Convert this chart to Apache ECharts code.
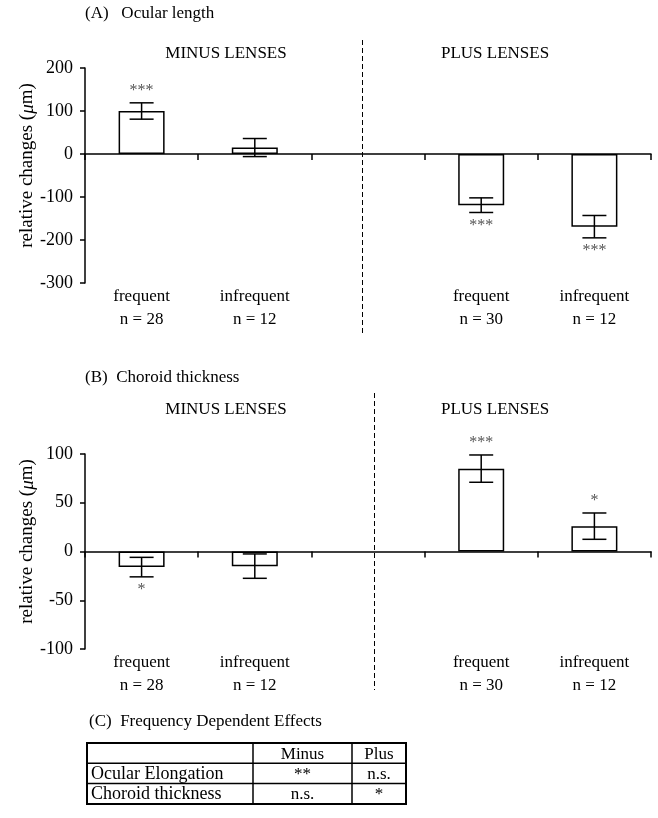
<!DOCTYPE html>
<html>
<head>
<meta charset="utf-8">
<script src="https://cdn.jsdelivr.net/npm/echarts@6/dist/echarts.min.js"></script>
<style>
  html, body { margin: 0; padding: 0; background: #fff; }
  #chart { width: 658px; height: 818px; }
</style>
</head>
<body>
<div id="chart"></div>
<script>
// data
var categories = ['frequent', 'infrequent', '', 'frequent', 'infrequent'];
var nLabels = ['n = 28', 'n = 12', '', 'n = 30', 'n = 12'];

var ocularMean = [100, 15, null, -119, -169];
var ocularSem = [19, 21, null, 17, 26];
var ocularSig = ['***', '', '', '***', '***'];

var choroidMean = [-16, -15, null, 85, 26];
var choroidSem = [10, 12.5, null, 14, 13.5];
var choroidSig = ['*', '', '', '***', '*'];

var tableHeader = ['', 'Minus', 'Plus'];
var tableRows = [
  ['Ocular Elongation', '**', 'n.s.'],
  ['Choroid thickness', 'n.s.', '*']
];

var FONT = '"Liberation Serif", "Times New Roman", serif';
var chart = echarts.init(document.getElementById('chart'));

// error bar + asterisks
function errorRender(sig) {
  return function(params, api) {
    var i = api.value(0), m = api.value(1), s = api.value(2);
    var hi = api.coord([i, m + s]);
    var lo = api.coord([i, m - s]);
    var cap = 12;
    var st = { stroke: '#000', lineWidth: 1.5 };
    var kids = [
      { type: 'line', shape: { x1: hi[0], y1: hi[1], x2: lo[0], y2: lo[1] }, style: st },
      { type: 'line', shape: { x1: hi[0] - cap, y1: hi[1], x2: hi[0] + cap, y2: hi[1] }, style: st },
      { type: 'line', shape: { x1: lo[0] - cap, y1: lo[1], x2: lo[0] + cap, y2: lo[1] }, style: st }
    ];
    var t = sig[params.dataIndex];
    if (t) {
      var up = m > 0;
      kids.push({
        type: 'text',
        style: {
          text: t, x: hi[0], y: up ? hi[1] - 4 : lo[1] + 5,
          align: 'center', verticalAlign: up ? 'bottom' : 'top',
          font: '16px ' + FONT, fill: '#555'
        }
      });
    }
    return { type: 'group', children: kids };
  };
}

function errData(mean, sem) {
  var out = [];
  mean.forEach(function(m, i) { if (m !== null) out.push([i, m, sem[i]]); });
  return out;
}

function makeY(idx, min, max, interval) {
  return {
    type: 'value', gridIndex: idx, min: min, max: max, interval: interval,
    splitLine: { show: false },
    axisLine: { show: true, lineStyle: { color: '#000', width: 1.5 } },
    axisTick: { show: true, length: 5, lineStyle: { color: '#000', width: 1.5 } },
    axisLabel: { color: '#000', fontSize: 18, fontFamily: FONT, margin: 12 },
    name: 'relative changes ({i|μ}m)',
    nameLocation: 'middle', nameRotate: 90, nameGap: 48, nameMoveOverlap: false,
    nameTextStyle: {
      color: '#000', fontSize: 19, fontFamily: FONT, padding: [0, 0, 0, 20],
      rich: { i: { fontStyle: 'italic', fontSize: 19, fontFamily: FONT, color: '#000' } }
    }
  };
}

function makeX(idx) {
  return [{
    type: 'category', gridIndex: idx, data: categories,
    axisLine: { onZero: true, lineStyle: { color: '#000', width: 1.5 } },
    axisTick: { show: true, length: 6, lineStyle: { color: '#000', width: 1.5 } },
    axisLabel: { show: false }
  }, {
    type: 'category', gridIndex: idx, data: categories, position: 'bottom',
    axisLine: { show: false, onZero: false }, axisTick: { show: false },
    axisLabel: {
      color: '#000', fontSize: 17, fontFamily: FONT, margin: 2, lineHeight: 23,
      formatter: function(v, i) { return v ? v + '\n' + nLabels[i] : ''; }
    }
  }];
}

function texts() {
  var t = function(x, y, s, align, size) {
    return { type: 'text', x: x, y: y, style: {
      text: s, align: align || 'center', verticalAlign: 'middle',
      font: (size || 17) + 'px ' + FONT, fill: '#000' } };
  };
  var dash = { stroke: '#000', lineWidth: 1, lineDash: [5, 3] };
  var els = [
    t(85, 14, '(A)   Ocular length', 'left'),
    t(226, 54, 'MINUS LENSES'),
    t(495, 54, 'PLUS LENSES'),
    t(85, 378, '(B)  Choroid thickness', 'left'),
    t(226, 410, 'MINUS LENSES'),
    t(495, 410, 'PLUS LENSES'),
    t(89, 722, '(C)  Frequency Dependent Effects', 'left'),
    { type: 'line', shape: { x1: 362.5, y1: 40, x2: 362.5, y2: 335 }, style: dash },
    { type: 'line', shape: { x1: 374.5, y1: 393, x2: 374.5, y2: 690 }, style: dash }
  ];
  // table (C)
  var tx = 87, ty = 743, colX = [87, 253, 352, 406], rowH = 20.3;
  var nRows = tableRows.length + 1;
  els.push({ type: 'rect', shape: { x: tx, y: ty, width: colX[3] - tx, height: rowH * nRows },
    style: { fill: 'none', stroke: '#000', lineWidth: 2 } });
  for (var r = 1; r < nRows; r++) {
    els.push({ type: 'line', shape: { x1: tx, y1: ty + r * rowH, x2: colX[3], y2: ty + r * rowH },
      style: { stroke: '#000', lineWidth: 1.5 } });
  }
  [1, 2].forEach(function(c) {
    els.push({ type: 'line', shape: { x1: colX[c], y1: ty, x2: colX[c], y2: ty + rowH * nRows },
      style: { stroke: '#000', lineWidth: 1.5 } });
  });
  [tableHeader].concat(tableRows).forEach(function(row, r) {
    var cy = ty + r * rowH + rowH / 2 + 1;
    row.forEach(function(cell, c) {
      if (!cell) return;
      if (c === 0) els.push(t(colX[0] + 4, cy, cell, 'left', 18));
      else els.push(t((colX[c] + colX[c + 1]) / 2, cy, cell, 'center', 17));
    });
  });
  return els;
}

var barStyle = { color: '#fff', borderColor: '#000', borderWidth: 1.5 };

chart.setOption({
  backgroundColor: '#fff',
  animation: false,
  grid: [
    { left: 85, right: 7, top: 68, height: 215 },
    { left: 85, right: 7, top: 454, height: 195 }
  ],
  xAxis: makeX(0).concat(makeX(1)),
  yAxis: [makeY(0, -300, 200, 100), makeY(1, -100, 100, 50)],
  graphic: texts(),
  series: [
    { type: 'bar', xAxisIndex: 0, yAxisIndex: 0, data: ocularMean, barWidth: 46,
      itemStyle: barStyle, silent: true },
    { type: 'custom', xAxisIndex: 0, yAxisIndex: 0, data: errData(ocularMean, ocularSem),
      renderItem: errorRender(ocularSig.filter(function(s, i) { return ocularMean[i] !== null; })), z: 5 },
    { type: 'bar', xAxisIndex: 2, yAxisIndex: 1, data: choroidMean, barWidth: 46,
      itemStyle: barStyle, silent: true },
    { type: 'custom', xAxisIndex: 2, yAxisIndex: 1, data: errData(choroidMean, choroidSem),
      renderItem: errorRender(choroidSig.filter(function(s, i) { return choroidMean[i] !== null; })), z: 5 }
  ]
});
</script>
</body>
</html>
